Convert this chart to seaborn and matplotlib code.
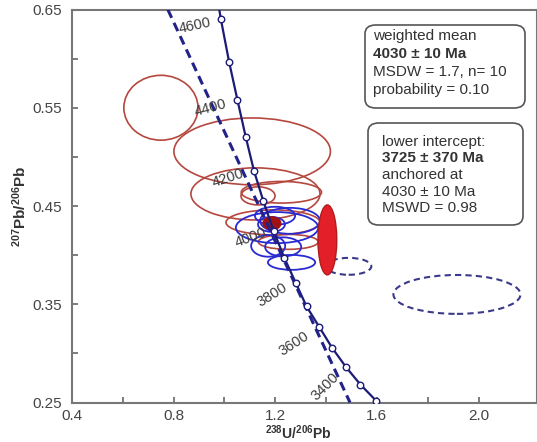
import numpy as np
import pandas as pd
import matplotlib
matplotlib.use("Agg")
import matplotlib.pyplot as plt
import seaborn as sns
from matplotlib.patches import Ellipse, FancyBboxPatch

# ---------------- data ----------------
# concordia curve (ages in Ma, positions)
conc_age = [4700, 4600, 4500, 4400, 4300, 4200, 4100, 4000, 3900, 3800,
            3700, 3600, 3500, 3400, 3300, 3200, 3100]
conc_x = [0.957, 0.986, 1.018, 1.051, 1.084, 1.116, 1.153, 1.193, 1.236, 1.281,
          1.323, 1.374, 1.424, 1.479, 1.535, 1.598, 1.664]
conc_y = [0.685, 0.640, 0.597, 0.558, 0.520, 0.486, 0.455, 0.425, 0.397, 0.3715,
          0.3478, 0.3265, 0.3055, 0.2858, 0.2683, 0.2515, 0.237]
marker_ages = [4600, 4500, 4400, 4300, 4200, 4100, 4000, 3900, 3800,
               3700, 3600, 3500, 3400, 3300, 3200]

# concordia age labels
label_text = ["4600", "4400", "4200", "4000", "3800", "3600", "3400"]
label_x = [0.884, 0.945, 1.014, 1.105, 1.189, 1.274, 1.397]
label_y = [0.634, 0.550, 0.4786, 0.4175, 0.359, 0.3097, 0.266]
label_rot = [12, 15, 18, 20, 32, 33, 45]

# discordia (dashed) end points
disc_x = [0.777, 1.494]
disc_y = [0.65, 0.25]

# red error ellipses (centre x, centre y, half width, half height)
red_x = [0.750, 1.109, 1.122, 1.132, 1.224, 1.191, 1.251]
red_y = [0.550, 0.5056, 0.4623, 0.4603, 0.464, 0.4333, 0.4135]
red_hw = [0.146, 0.308, 0.254, 0.067, 0.158, 0.185, 0.118]
red_hh = [0.033, 0.034, 0.0265, 0.0092, 0.011, 0.0127, 0.0076]

# blue error ellipses
blue_x = [1.207, 1.199, 1.258, 1.264, 1.231, 1.185, 1.172]
blue_y = [0.428, 0.440, 0.4349, 0.3926, 0.4084, 0.4313, 0.4094]
blue_hw = [0.162, 0.079, 0.118, 0.093, 0.071, 0.053, 0.067]
blue_hh = [0.0158, 0.0092, 0.0132, 0.0076, 0.0097, 0.0076, 0.011]

# dashed (rejected) ellipses
dash_x = [1.489, 1.915]
dash_y = [0.3886, 0.360]
dash_hw = [0.089, 0.25]
dash_hh = [0.0086, 0.0198]

# filled ellipses: bright red analysis and weighted mean
fill_x = [1.405, 1.187]
fill_y = [0.4155, 0.4323]
fill_hw = [0.037, 0.035]
fill_hh = [0.0356, 0.0066]

x_ticks = [0.4, 0.6, 0.8, 1.0, 1.2, 1.4, 1.6, 1.8, 2.0]
x_ticklabels = ["0.4", "", "0.8", "", "1.2", "", "1.6", "", "2.0"]
y_ticks = [0.25, 0.30, 0.35, 0.40, 0.45, 0.50, 0.55, 0.60, 0.65]
y_ticklabels = ["0.25", "", "0.35", "", "0.45", "", "0.55", "", "0.65"]

box1_lines = ["weighted mean", "4030 ± 10 Ma", "MSDW = 1.7, n= 10", "probability = 0.10"]
box1_bold = [False, True, False, False]
box2_lines = ["lower intercept:", "3725 ± 370 Ma", "anchored at", "4030 ± 10 Ma", "MSWD = 0.98"]
box2_bold = [False, True, False, False, False]

# ---------------- plotting ----------------
sns.set_style("ticks")
plt.rcParams["font.family"] = ["Liberation Sans", "DejaVu Sans"]
plt.rcParams["mathtext.default"] = "regular"

W, H = 537, 442
fig = plt.figure(figsize=(W / 100, H / 100), dpi=100)
ax = fig.add_axes([72 / W, 1 - 402.5 / H, (W - 72) / W, (402.5 - 9.5) / H])

RED = "#b5473f"
BLUE = "#2a2ad2"
NAVY = "#1c1c78"

for x, y, w, h in zip(red_x, red_y, red_hw, red_hh):
    ax.add_patch(Ellipse((x, y), 2 * w, 2 * h, fill=False, ec=RED, lw=1.2, zorder=2))
for x, y, w, h in zip(blue_x, blue_y, blue_hw, blue_hh):
    ax.add_patch(Ellipse((x, y), 2 * w, 2 * h, fill=False, ec=BLUE, lw=1.3, zorder=2.2))
for x, y, w, h in zip(dash_x, dash_y, dash_hw, dash_hh):
    ax.add_patch(Ellipse((x, y), 2 * w, 2 * h, fill=False, ec="#3a3a8a", lw=1.5,
                         ls=(0, (3, 2)), zorder=2))
ax.add_patch(Ellipse((fill_x[0], fill_y[0]), 2 * fill_hw[0], 2 * fill_hh[0],
                     fc="#e3202a", ec="#b01c1c", lw=1.0, zorder=2.5))
ax.add_patch(Ellipse((fill_x[1], fill_y[1]), 2 * fill_hw[1], 2 * fill_hh[1],
                     fc="#a01212", ec="#a01212", lw=1.0, zorder=2.6))

conc = pd.DataFrame({"age": conc_age, "x": conc_x, "y": conc_y})
sns.lineplot(data=conc, x="x", y="y", sort=False, color=NAVY, lw=1.6, ax=ax, zorder=3)
disc = pd.DataFrame({"x": disc_x, "y": disc_y})
sns.lineplot(data=disc, x="x", y="y", sort=False, color="#22228a", lw=2.2, ax=ax,
             zorder=3, dashes=False, linestyle=(0, (3, 1.8)))
marks = conc[conc["age"].isin(marker_ages)]
sns.scatterplot(data=marks, x="x", y="y", s=22, color="white", edgecolor=NAVY,
                linewidth=1.0, ax=ax, zorder=4)

for t, x, y, r in zip(label_text, label_x, label_y, label_rot):
    ax.text(x, y, t, rotation=r, ha="center", va="center", fontsize=10.5,
            color="#3c3c3c", zorder=5)

ax.set_xlim(0.4, 2.23)
ax.set_ylim(0.25, 0.65)
ax.set_xticks(x_ticks)
ax.set_xticklabels(x_ticklabels)
ax.set_yticks(y_ticks)
ax.set_yticklabels(y_ticklabels)
ax.tick_params(direction="in", length=4, width=1.2, color="#666666",
               labelsize=11, labelcolor="#444444", pad=7)
ax.tick_params(axis="x", pad=4.5)
for s in ax.spines.values():
    s.set_color("#777777")
    s.set_linewidth(1.5)

ax.set_xlabel("$^{238}$U/$^{206}$Pb", fontsize=10, fontweight="bold", color="#333333")
ax.set_ylabel("$^{207}$Pb/$^{206}$Pb", fontsize=11, fontweight="bold", color="#333333")
ax.xaxis.set_label_coords((298 - 72) / (W - 72), -(423 - 402.5) / (402.5 - 9.5))
ax.yaxis.set_label_coords(-(72 - 29) / (W - 72), (402.5 - 206) / (402.5 - 9.5))


def px2fig(px, py):
    return px / W, 1 - py / H


def text_box(x0, y0, x1, y1, tx, ty0, dy, lines, bold):
    fx0, fy1 = px2fig(x0, y1)
    fx1, fy0 = px2fig(x1, y0)
    box = FancyBboxPatch((fx0, fy1), fx1 - fx0, fy0 - fy1,
                         boxstyle="round,pad=0,rounding_size=0.02",
                         transform=fig.transFigure, fc="white", ec="#555555",
                         lw=1.2, zorder=6)
    fig.patches.append(box)
    for i, (ln, b) in enumerate(zip(lines, bold)):
        fx, fy = px2fig(tx, ty0 + i * dy)
        fig.text(fx, fy, ln, ha="left", va="center", fontsize=11,
                 fontweight="bold" if b else "normal", color="#333333", zorder=7)


text_box(365, 25, 525, 108, 373, 36, 18, box1_lines, box1_bold)
text_box(368, 123, 523, 225, 382, 142, 16.5, box2_lines, box2_bold)

fig.savefig("out.png", dpi=100)
